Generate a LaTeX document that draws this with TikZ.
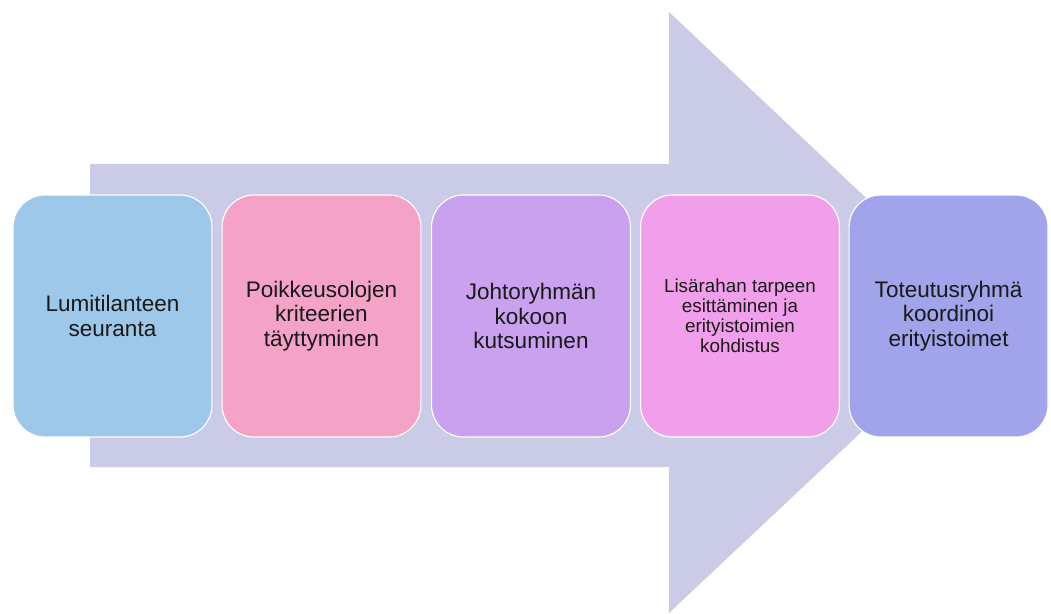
\documentclass[tikz,border=0pt]{standalone}
\usepackage{fontspec}
\setmainfont{Liberation Sans}
\usepackage{tikz}
\usetikzlibrary{positioning}
\definecolor{flowArrow}{HTML}{CACBE6}
\definecolor{stepBlue}{HTML}{9EC8EA}
\definecolor{stepPink}{HTML}{F4A3C7}
\definecolor{stepLilac}{HTML}{C9A1EE}
\definecolor{stepMagenta}{HTML}{F29FEB}
\definecolor{stepViolet}{HTML}{A1A3EB}

\begin{document}
\begin{tikzpicture}[
  x=0.025cm, y=-0.025cm,
  font=\fontsize{16}{17.6}\selectfont,
  stepbox/.style={draw=white, line width=0.8pt, rounded corners=0.8cm,
                  minimum width=4.97cm, minimum height=6.05cm, align=center,
                  text=black!90},
  small/.style={font=\fontsize{13.4}{14.3}\selectfont}
]
\useasboundingbox (0,0) rectangle (1051,613);
% big background arrow
\fill[flowArrow] (90,164) -- (669,164) -- (669,12) -- (988,313)
  -- (669,613) -- (669,467) -- (90,467) -- cycle;

\node[stepbox, fill=stepBlue] (seuranta) at (112.5,316) {Lumitilanteen\\seuranta};
\node[stepbox, fill=stepPink] (kriteerit) at (321.5,316) {Poikkeusolojen\\kriteerien\\täyttyminen};
\node[stepbox, fill=stepLilac] (johto) at (531,316) {Johtoryhmän\\kokoon\\kutsuminen};
\node[stepbox, fill=stepMagenta, small] (lisaraha) at (740,316) {Lisärahan tarpeen\\esittäminen ja\\erityistoimien\\kohdistus};
\node[stepbox, fill=stepViolet] (toteutus) at (948.5,316) {Toteutusryhmä\\koordinoi\\erityistoimet};
\end{tikzpicture}
\end{document}
